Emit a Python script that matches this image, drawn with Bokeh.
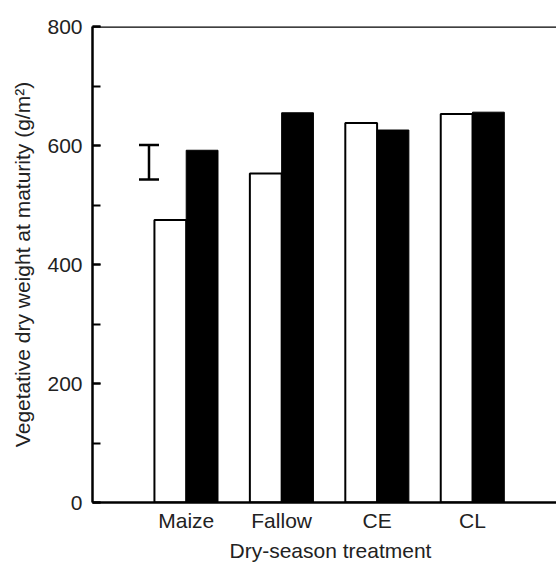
from bokeh.plotting import figure
from bokeh.models import (FixedTicker, SingleIntervalTicker, Range1d, Span, Whisker,
                          TeeHead, ColumnDataSource, Title)
from bokeh.embed import file_html
from bokeh.resources import INLINE

# ---- data ----
categories = ["Maize", "Fallow", "CE", "CL"]
cat_pos = [1, 2, 3, 4]
white_vals = [475, 553, 638, 653]   # open bars
black_vals = [592, 655, 626, 656]   # filled bars
err_pos = [0.61]
err_low = [543]
err_high = [601]
y_ticks_major = 200

FONT = "Liberation Sans"
TXT = "#222222"
bw = 0.333

p = figure(width=556, height=563, output_backend="svg", toolbar_location=None,
           x_range=Range1d(0.018, 4.88), y_range=Range1d(0, 800),
           min_border_left=92, min_border_right=0, min_border_top=26, min_border_bottom=61)
p.outline_line_color = None
p.xgrid.visible = False
p.ygrid.visible = False
p.background_fill_color = "white"
p.border_fill_color = "white"

src_w = ColumnDataSource(dict(x=[c - bw / 2 for c in cat_pos], top=white_vals))
src_b = ColumnDataSource(dict(x=[c + bw / 2 for c in cat_pos], top=black_vals))
p.vbar(x="x", top="top", width=bw, bottom=0, source=src_w,
       fill_color="white", line_color="black", line_width=2)
p.vbar(x="x", top="top", width=bw, bottom=0, source=src_b,
       fill_color="black", line_color="black", line_width=1)

esrc = ColumnDataSource(dict(base=err_pos, lower=err_low, upper=err_high))
p.add_layout(Whisker(source=esrc, base="base", lower="lower", upper="upper",
                     line_width=2.5, line_color="black",
                     upper_head=TeeHead(size=20, line_width=2.5, line_color="black"),
                     lower_head=TeeHead(size=20, line_width=2.5, line_color="black")))

# top border line
p.add_layout(Span(location=800, dimension="width", line_color="black", line_width=2.5))

# y axis
yax = p.yaxis[0]
yax.ticker = SingleIntervalTicker(interval=y_ticks_major, num_minor_ticks=2)
yax.axis_line_width = 2.5
yax.major_tick_in = 8
yax.major_tick_out = 0
yax.minor_tick_in = 8
yax.minor_tick_out = 0
yax.major_tick_line_width = 2
yax.minor_tick_line_width = 2
yax.major_label_text_font = FONT
yax.major_label_text_font_size = "21px"
yax.major_label_text_color = TXT
yax.major_label_standoff = 10
yax.axis_label = "Vegetative dry weight at maturity (g/m²)"
yax.axis_label_text_font = FONT
yax.axis_label_text_font_size = "21px"
yax.axis_label_text_font_style = "normal"
yax.axis_label_text_color = TXT
yax.axis_label_standoff = 10

# x axis
xax = p.xaxis[0]
xax.ticker = FixedTicker(ticks=cat_pos)
xax.major_label_overrides = {c: n for c, n in zip(cat_pos, categories)}
xax.axis_line_width = 2.5
xax.major_tick_line_color = None
xax.minor_tick_line_color = None
xax.major_tick_in = 0
xax.major_tick_out = 0
xax.major_label_text_font = FONT
xax.major_label_text_font_size = "21px"
xax.major_label_text_color = TXT
xax.major_label_standoff = 6

p.add_layout(Title(text="Dry-season treatment", align="left", offset=137,
                   text_font=FONT, text_font_size="21px", text_font_style="normal",
                   text_color=TXT, standoff=4), "below")

open("out.html", "w").write(file_html(p, INLINE))
